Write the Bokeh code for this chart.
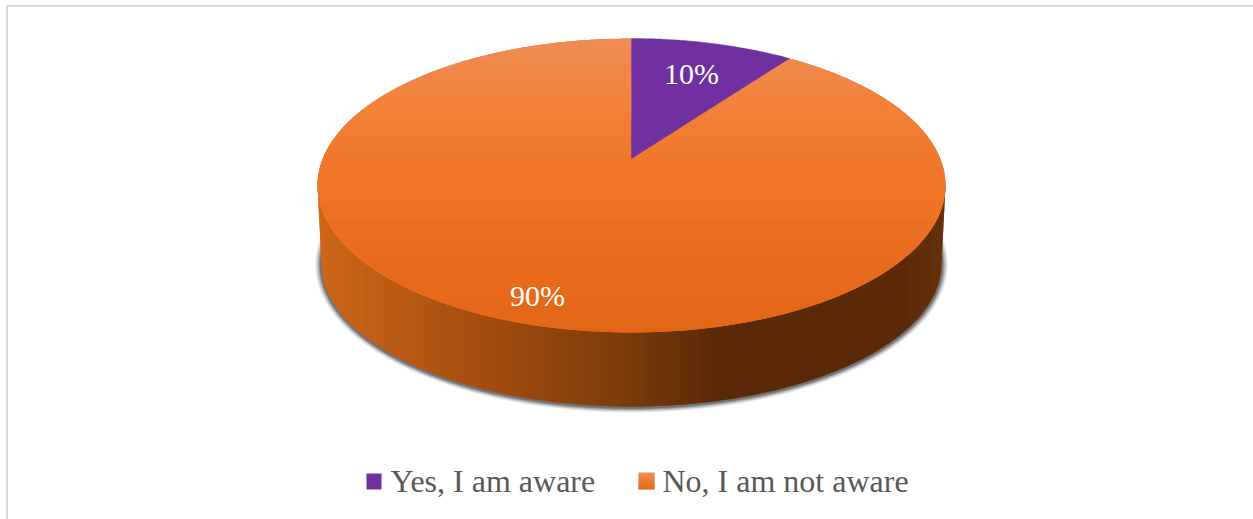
import numpy as np
from bokeh.plotting import figure
from bokeh.models import Range1d
from bokeh.core.properties import value
from bokeh.embed import file_html
from bokeh.resources import INLINE

# ---- data -------------------------------------------------------------
categories = ["Yes, I am aware", "No, I am not aware"]
shares = [10, 90]
labels = ["10%", "90%"]

# ---- style ------------------------------------------------------------
W, H = 1253, 519
CX, CY_APEX = 631.0, 158.0
V_TOP, V_BOT = 120.0, 174.0        # distance rim -> apex, far and near side
PERSP = (V_BOT - V_TOP) / (V_BOT + V_TOP)
A = V_TOP * (1 + PERSP)
RX = 314.0
K = RX * np.sqrt(1 - PERSP ** 2)
TOP_STOPS = [(38, "#ef8c55"), (120, "#f27f35"), (170, "#f0772a"), (250, "#ea6e20"), (332, "#e26717")]
SIDE_STOPS = [(317, "#cd6719"), (468, "#a84f10"), (594, "#84400c"), (720, "#5a2a08"), (900, "#5c2a08"), (945, "#66320c")]
FONT = value("Liberation Serif")


def hex2rgb(c):
    return np.array([int(c[i:i + 2], 16) for i in (1, 3, 5)], float)


def ramp(stops, t):
    xs = [s[0] for s in stops]
    rgb = np.array([hex2rgb(s[1]) for s in stops])
    return "#%02x%02x%02x" % tuple(int(round(np.interp(t, xs, rgb[:, i]))) for i in range(3))


def project(theta):
    """Pie angle (clockwise from 12 o'clock) to screen, with the tilt's perspective."""
    x, y = np.sin(theta), np.cos(theta)
    d = 1 + PERSP * y
    return CX + K * x / d, CY_APEX - A * y / d


def wedge(start, end):
    th = np.linspace(start, end, max(int((end - start) * 120), 8))
    px, py = project(th)
    return np.r_[CX, px], np.r_[CY_APEX, py]


def spans(px, py, y):
    x0, y0 = px, py
    x1, y1 = np.roll(px, -1), np.roll(py, -1)
    hit = (y0 <= y) != (y1 <= y)
    xs = x0[hit] + (y - y0[hit]) * (x1[hit] - x0[hit]) / (y1[hit] - y0[hit])
    xs = np.sort(xs)
    return xs.reshape(-1, 2)


def gradient_strips(px, py, stops):
    xs_out, ys_out, cols = [], [], []
    lo, hi = py.min(), py.max()
    edges = np.r_[lo + 1e-3, np.arange(np.floor(lo) + 1, np.ceil(hi)), hi - 1e-3]
    for a, b in zip(edges[:-1], edges[1:]):
        b2 = min(b + .8, hi - 1e-3)        # overlap the next row, no seams
        sa, sb = spans(px, py, a), spans(px, py, b2)
        if len(sa) != len(sb):
            sa = sb = spans(px, py, (a + b) / 2)
        for p, q in zip(sa, sb):
            xs_out.append([p[0], p[1], q[1], q[0]])
            ys_out.append([a, a, b2, b2])
            cols.append(ramp(stops, (a + b) / 2))
    return xs_out, ys_out, cols


p = figure(width=W, height=H, output_backend="svg", toolbar_location=None,
           x_range=Range1d(0, W), y_range=Range1d(H, 0), margin=(0, 0, 0, 0),
           min_border=0, outline_line_color=None, background_fill_color="white",
           border_fill_color="white")
p.axis.visible = False
p.grid.visible = False

# chart frame
p.line([W, 6.5, 6.5], [5.5, 5.5, H], line_color="#d9d9d9", line_width=2, line_alpha=1)

# ---- soft shadow under the disc
bx, by = 310.0, 143.0
bcy = 263.0
t = np.linspace(0, 2 * np.pi, 300)
for grow, alpha in [(6.5, .06), (5.5, .09), (4.5, .12), (3.5, .16), (2.5, .22), (1.5, .3)]:
    p.patch(CX + (bx + grow) * np.cos(t), bcy + 1 + (by + grow * .8) * np.sin(t),
            fill_color="#2a2a2a", fill_alpha=alpha, line_color=None)

# ---- side wall
xedges = np.arange(317, 946)
wx, wy, wc = [], [], []
def wall_bottom(x):
    d = (x - CX) / bx
    inside = np.abs(d) < 1
    yb = np.where(inside, bcy + by * np.sqrt(np.clip(1 - d ** 2, 0, 1)), bcy)
    return np.where(np.abs(x - CX) > bx, 185 + (np.abs(x - CX) - RX) / (bx - RX) * (bcy - 185), yb)
for a, b in zip(xedges[:-1], xedges[1:]):
    b2 = min(b + .8, 945.0)
    wx.append([a, b2, b2, a])
    wy.append([185, 185, float(wall_bottom(np.array(float(b2)))), float(wall_bottom(np.array(float(a))))])
    wc.append(ramp(SIDE_STOPS, a + .5))
p.patches(wx, wy, fill_color=wc, fill_alpha=1, line_color=None)

# ---- top face, one wedge per series
frac = np.cumsum([0] + shares) / sum(shares) * 2 * np.pi
purple = "#7030a0"
px0, py0 = wedge(frac[1], frac[2])
p.patch(px0, py0, fill_color="#ee7526", fill_alpha=1, line_color=None)
sx, sy, sc = gradient_strips(px0, py0, TOP_STOPS)
p.patches(sx, sy, fill_color=sc, fill_alpha=1, line_color=None)
px1, py1 = wedge(frac[0], frac[1])
p.patch(px1, py1, fill_color=purple, fill_alpha=1, line_color=purple, line_alpha=1, line_width=.4)

# ---- data labels
p.text([691, 537], [72.5, 294.5], text=labels, text_color="white", text_font=FONT,
       text_font_size="30px", text_align="center", text_baseline="middle")

# ---- legend
p.quad(left=[366], right=[381], top=[473], bottom=[489], fill_color=purple, fill_alpha=1, line_color=None)
for y in range(472, 489):
    p.quad(left=[638], right=[654], top=[y], bottom=[min(y + 1.8, 489)],
           fill_color=ramp([(472, "#f08c55"), (489, "#e56a17")], y + .5), fill_alpha=1, line_color=None)
p.text([390, 662], [480, 480], text=categories, text_color="#595959", text_font=FONT,
       text_font_size="32px", text_align="left", text_baseline="middle")

open("out.html", "w").write(file_html(p, INLINE))
